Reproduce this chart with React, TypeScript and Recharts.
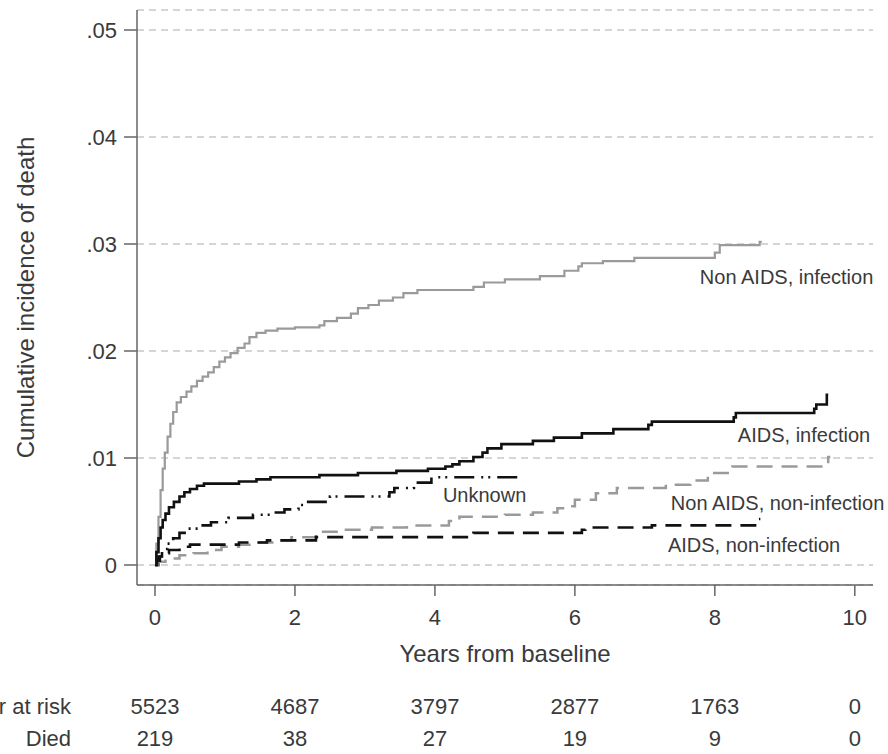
import { LineChart, Line, XAxis, YAxis, CartesianGrid, ReferenceDot } from 'recharts';

// step points: time of jump (years) and cumulative incidence after it
const nonAidsInfT = [0, 0.02, 0.05, 0.08, 0.11, 0.14, 0.18, 0.22, 0.26, 0.31, 0.37, 0.45, 0.52, 0.6, 0.68, 0.76, 0.84, 0.92, 1.0, 1.08, 1.18, 1.28, 1.35, 1.45, 1.58, 1.75, 2.0, 2.35, 2.42, 2.6, 2.8, 2.9, 3.05, 3.2, 3.4, 3.55, 3.75, 4.55, 4.7, 5.0, 5.5, 5.85, 6.05, 6.1, 6.4, 6.85, 8.0, 8.07, 8.64, 8.67];
const nonAidsInfV = [0, 0.002, 0.0045, 0.007, 0.009, 0.0105, 0.012, 0.0132, 0.0143, 0.0152, 0.0157, 0.0162, 0.0167, 0.0172, 0.0176, 0.018, 0.0185, 0.019, 0.0194, 0.0198, 0.0203, 0.0207, 0.0213, 0.0217, 0.0219, 0.0221, 0.0222, 0.0224, 0.0228, 0.0231, 0.0235, 0.024, 0.0243, 0.0247, 0.025, 0.0254, 0.0257, 0.026, 0.0264, 0.0267, 0.027, 0.0275, 0.0279, 0.0282, 0.0284, 0.0287, 0.0292, 0.0299, 0.0302, 0.0302];

const aidsInfT = [0, 0.02, 0.05, 0.08, 0.11, 0.15, 0.2, 0.27, 0.35, 0.42, 0.5, 0.6, 0.7, 1.2, 1.45, 1.65, 2.35, 2.9, 3.45, 3.9, 4.15, 4.25, 4.35, 4.55, 4.68, 4.75, 4.95, 5.4, 5.7, 6.1, 6.55, 7.05, 7.1, 8.27, 8.3, 9.42, 9.45, 9.6, 9.62];
const aidsInfV = [0, 0.0012, 0.0025, 0.0035, 0.0042, 0.0048, 0.0054, 0.0059, 0.0064, 0.0068, 0.0071, 0.0074, 0.0076, 0.0078, 0.008, 0.0082, 0.0084, 0.0086, 0.0088, 0.009, 0.0092, 0.0094, 0.0097, 0.0101, 0.0105, 0.0109, 0.0113, 0.0116, 0.0119, 0.0123, 0.0127, 0.0131, 0.0134, 0.0138, 0.0142, 0.0146, 0.015, 0.0159, 0.0159];

const unknownT = [0, 0.05, 0.1, 0.18, 0.26, 0.35, 0.45, 0.65, 0.8, 1.05, 1.4, 1.65, 1.85, 2.05, 2.15, 2.5, 3.35, 3.42, 3.7, 3.95, 5.22];
const unknownV = [0, 0.0008, 0.0015, 0.002, 0.0025, 0.003, 0.0034, 0.0037, 0.004, 0.0044, 0.0047, 0.0049, 0.0052, 0.0056, 0.0059, 0.0064, 0.0068, 0.0072, 0.0077, 0.0082, 0.0082];

const nonAidsNonInfT = [0, 0.05, 0.15, 0.35, 0.55, 0.75, 0.95, 1.2, 1.45, 1.7, 1.95, 2.3, 2.7, 3.1, 3.6, 4.2, 4.35, 5.0, 5.4, 5.75, 5.85, 6.0, 6.3, 6.6, 7.3, 7.65, 7.9, 8.25, 9.62, 9.65];
const nonAidsNonInfV = [0, 0.0003, 0.0006, 0.0009, 0.0011, 0.0014, 0.0017, 0.0019, 0.0021, 0.0023, 0.0026, 0.0031, 0.0033, 0.0035, 0.0037, 0.0041, 0.0045, 0.0047, 0.0049, 0.0053, 0.0055, 0.0061, 0.0067, 0.0072, 0.0075, 0.0079, 0.0086, 0.0092, 0.0101, 0.0101];

const aidsNonInfT = [0, 0.03, 0.07, 0.12, 0.2, 0.35, 0.5, 1.2, 1.6, 2.3, 4.55, 6.1, 6.15, 7.1, 8.62, 8.65];
const aidsNonInfV = [0, 0.0004, 0.0008, 0.0011, 0.0014, 0.0017, 0.0019, 0.0021, 0.0023, 0.0026, 0.003, 0.0033, 0.0035, 0.0037, 0.0043, 0.0043];

const xTicks = [0, 2, 4, 6, 8, 10];
const yTicks = [0, 0.01, 0.02, 0.03, 0.04, 0.05];
const atRisk = [5523, 4687, 3797, 2877, 1763, 0];
const died = [219, 38, 27, 19, 9, 0];

const toRows = (t: number[], v: number[]) => t.map((x, i) => ({ t: x, v: v[i] }));

const FONT = "'Liberation Sans', Arial, sans-serif";
const GREY = '#9a9a9a';
const BLACK = '#111';
const TEXT = '#3a3a3a';

const fmtY = (v: number) => (v === 0 ? '0' : v.toFixed(2).replace(/^0/, ''));

// x tick plus the number-at-risk table underneath it
const XTick = (props: any) => {
  const { x, y, payload } = props;
  const i = xTicks.indexOf(payload.value);
  const txt = { fill: TEXT, fontFamily: FONT, fontSize: 22 };
  return (
    <g>
      <text x={x} y={y} dy="0.71em" textAnchor="middle" {...txt}>
        {payload.value}
      </text>
      {i === 0 && (
        <>
          <text x={71} y={y + 89} dy="0.71em" textAnchor="end" {...txt}>Number at risk</text>
          <text x={71} y={y + 121} dy="0.71em" textAnchor="end" {...txt}>Died</text>
        </>
      )}
      <text x={x} y={y + 89} dy="0.71em" textAnchor="middle" {...txt}>
        {atRisk[i]}
      </text>
      <text x={x} y={y + 121} dy="0.71em" textAnchor="middle" {...txt}>
        {died[i]}
      </text>
    </g>
  );
};

const labels = [
  { text: 'Non AIDS, infection', t: 7.786, v: 0.02692 },
  { text: 'AIDS, infection', t: 8.329, v: 0.01215 },
  { text: 'Unknown', t: 4.114, v: 0.00654 },
  { text: 'Non AIDS, non-infection', t: 7.371, v: 0.00579 },
  { text: 'AIDS, non-infection', t: 7.329, v: 0.00187 },
];

export default function App() {
  return (
    <div style={{ position: 'absolute', left: 0, top: 0, background: '#fff' }}>
      <LineChart width={888} height={754} margin={{ top: 10, right: 15, bottom: 89, left: 0 }} style={{ fontFamily: FONT }}>
        <CartesianGrid vertical={false} stroke="#c8c8c8" strokeWidth={1.6} strokeDasharray="7 5" />
        <XAxis
          type="number"
          dataKey="t"
          domain={[-0.257, 10.26]}
          allowDataOverflow
          ticks={xTicks}
          interval={0}
          height={80}
          tickSize={11}
          tickMargin={13}
          stroke="#666"
          strokeWidth={1.5}
          tick={XTick}
          label={{ value: 'Years from baseline', position: 'insideBottom', offset: 3, fontSize: 24, fill: TEXT, fontFamily: FONT }}
        />
        <YAxis
          type="number"
          domain={[-0.00187, 0.05187]}
          allowDataOverflow
          ticks={yTicks}
          interval={0}
          width={137}
          tickSize={13}
          tickMargin={7}
          stroke="#666"
          strokeWidth={1.5}
          tickFormatter={fmtY}
          tick={{ fontSize: 22, fill: TEXT, fontFamily: FONT }}
          label={{
            value: 'Cumulative incidence of death',
            angle: -90,
            position: 'insideLeft',
            offset: 25,
            fontSize: 24,
            fill: TEXT,
            fontFamily: FONT,
            style: { textAnchor: 'middle' },
          }}
        />
        <Line data={toRows(nonAidsInfT, nonAidsInfV)} dataKey="v" type="stepAfter" stroke={GREY} strokeWidth={2.2} dot={false} activeDot={false} isAnimationActive={false} />
        <Line data={toRows(aidsInfT, aidsInfV)} dataKey="v" type="stepAfter" stroke={BLACK} strokeWidth={2.6} dot={false} activeDot={false} isAnimationActive={false} />
        <Line data={toRows(unknownT, unknownV)} dataKey="v" type="stepAfter" stroke={BLACK} strokeWidth={2.6} strokeDasharray="20 7 2 5 2 7" dot={false} activeDot={false} isAnimationActive={false} />
        <Line data={toRows(nonAidsNonInfT, nonAidsNonInfV)} dataKey="v" type="stepAfter" stroke={GREY} strokeWidth={2.5} strokeDasharray="16 9" dot={false} activeDot={false} isAnimationActive={false} />
        <Line data={toRows(aidsNonInfT, aidsNonInfV)} dataKey="v" type="stepAfter" stroke={BLACK} strokeWidth={2.6} strokeDasharray="16 9" dot={false} activeDot={false} isAnimationActive={false} />
        {labels.map((l) => (
          <ReferenceDot
            key={l.text}
            x={l.t}
            y={l.v}
            r={0}
            fill="none"
            stroke="none"
            label={{ value: l.text, position: 'right', offset: 0, fontSize: 20, fill: TEXT, fontFamily: FONT }}
          />
        ))}
      </LineChart>
    </div>
  );
}
